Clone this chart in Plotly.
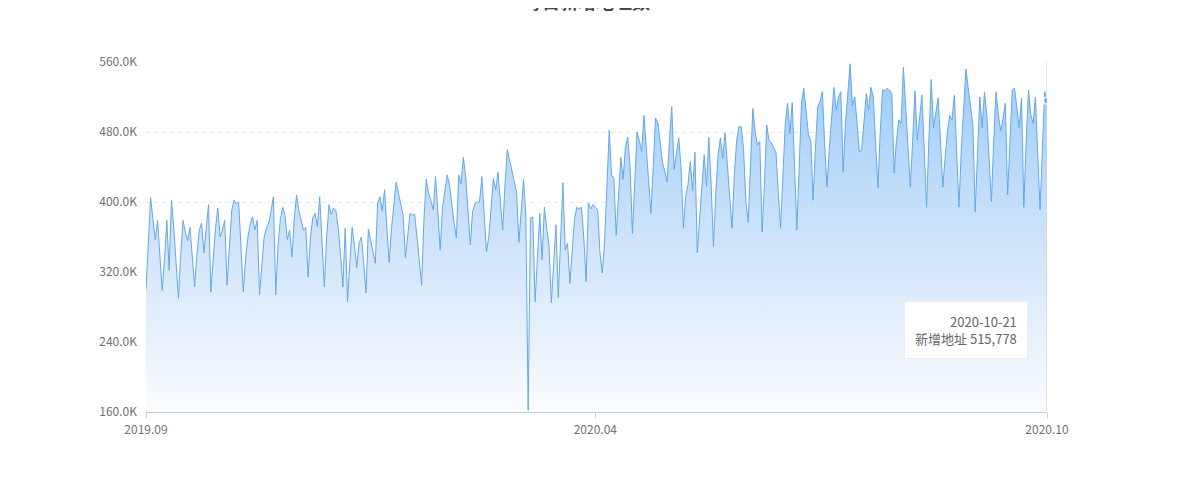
import plotly.graph_objects as go
import pandas as pd

# ---- data (values in thousands) ----
start_date = "2019-09-28"
end_date = "2020-10-21"
values_k = [
    300, 360, 405, 380, 357, 379, 340, 299, 335, 379,
    322, 402, 370, 330, 290, 340, 379, 365, 356, 371,
    340, 303, 340, 368, 376, 342, 370, 397, 297, 340,
    370, 393, 360, 368, 379, 305, 350, 390, 402, 398,
    400, 350, 297, 335, 360, 375, 383, 368, 379, 294,
    330, 360, 370, 376, 390, 406, 294, 350, 380, 394,
    385, 357, 368, 337, 380, 408, 390, 380, 368, 371,
    314, 360, 382, 387, 372, 406, 360, 303, 360, 397,
    386, 393, 390, 370, 340, 303, 370, 286, 330, 371,
    350, 325, 353, 360, 330, 296, 369, 355, 340, 330,
    399, 406, 390, 414, 370, 331, 370, 400, 423, 410,
    398, 385, 336, 365, 387, 385, 386, 360, 330, 305,
    380, 426, 410, 402, 391, 429, 390, 345, 393, 415,
    431, 420, 395, 376, 359, 431, 421, 451, 430, 390,
    351, 389, 398, 400, 400, 429, 380, 343, 360, 395,
    427, 414, 434, 400, 368, 420, 460, 448, 435, 425,
    411, 354, 390, 426, 383, 162, 382, 383, 286, 340,
    387, 334, 394, 370, 350, 285, 330, 374, 291, 350,
    422, 345, 353, 307, 350, 380, 394, 392, 394, 360,
    309, 399, 392, 397, 394, 391, 342, 319, 355, 420,
    482, 430, 428, 362, 410, 451, 426, 463, 474, 440,
    364, 430, 480, 470, 458, 499, 460, 420, 387, 440,
    496, 490, 470, 445, 435, 423, 470, 509, 437, 455,
    473, 440, 370, 406, 420, 446, 413, 457, 342, 380,
    420, 454, 418, 474, 420, 349, 410, 455, 473, 450,
    479, 440, 400, 370, 430, 470, 486, 486, 460, 400,
    377, 440, 507, 480, 465, 469, 366, 420, 488, 470,
    468, 462, 457, 410, 370, 430, 490, 513, 478, 514,
    450, 368, 440, 513, 530, 500, 477, 470, 402, 460,
    509, 515, 526, 467, 417, 460, 500, 531, 505, 520,
    526, 434, 490, 530, 558, 510, 520, 490, 457, 460,
    495, 524, 505, 531, 520, 470, 416, 480, 528, 527,
    530, 528, 524, 433, 470, 494, 490, 554, 510, 460,
    417, 470, 527, 471, 500, 522, 460, 394, 470, 540,
    485, 500, 519, 470, 417, 450, 480, 499, 494, 522,
    460, 394, 460, 510, 552, 530, 505, 488, 389, 460,
    520, 485, 526, 500, 450, 400, 470, 526, 500, 481,
    495, 513, 408, 470, 528, 530, 510, 485, 519, 394,
    470, 528, 500, 490, 520, 460, 391, 460, 526, 515.778,
]
series_name = "新增地址"
x_tick_labels = ["2019.09", "2020.04", "2020.10"]
y_tick_values = [160000, 240000, 320000, 400000, 480000, 560000]
y_tick_labels = ["160.0K", "240.0K", "320.0K", "400.0K", "480.0K", "560.0K"]
title_text = "每日新增地址数"

dates = pd.date_range(start_date, end_date, freq="D")
values = [v * 1000 for v in values_k]
n = len(values)
dates = dates[:n]

line_color = "#64A8E6"
text_color = "#6E7079"
font_family = "Noto Sans CJK SC, Noto Sans, sans-serif"

fig = go.Figure()
fig.add_trace(go.Scatter(
    x=dates, y=values, mode="lines", name=series_name,
    line=dict(color=line_color, width=1),
    fill="tozeroy",
    fillgradient=dict(
        type="vertical",
        colorscale=[[0, "rgba(250,252,255,0.9)"], [0.5, "rgba(200,224,250,0.9)"], [1, "rgba(150,200,248,0.95)"]],
        start=160000, stop=560000,
    ),
    hoverinfo="skip",
))
# highlighted last point
fig.add_trace(go.Scatter(
    x=[dates[-1]], y=[values[-1]], mode="markers",
    marker=dict(color=line_color, size=7, line=dict(color="white", width=1.5)),
    hoverinfo="skip", showlegend=False,
))

mid_idx = 194
fig.update_xaxes(
    range=[dates[0], dates[-1]],
    tickmode="array",
    tickvals=[dates[0], dates[mid_idx], dates[-1]],
    ticktext=x_tick_labels,
    showgrid=False,
    showline=True, linecolor="#CCCCCC", linewidth=1,
    ticks="outside", ticklen=5, tickcolor="#CCCCCC",
    tickfont=dict(size=12, color=text_color, family=font_family),
    ticklabelstandoff=2,
    zeroline=False,
)
fig.update_yaxes(
    range=[160000, 560000],
    tickmode="array", tickvals=y_tick_values, ticktext=y_tick_labels,
    showgrid=True, gridcolor="#E6EAF1", griddash="4px,4px", gridwidth=1,
    showline=False, zeroline=False, ticks="",
    tickfont=dict(size=12, color=text_color, family=font_family),
    ticklabelstandoff=8,
)

# axis pointer line at the hovered (last) date
fig.add_shape(type="line", xref="x", yref="paper", x0=dates[-1], x1=dates[-1], y0=0, y1=1,
              line=dict(color="#CCCCCC", width=1))

# tooltip box
fig.add_annotation(
    xref="paper", yref="paper", x=0.979, y=0.234, xanchor="right", yanchor="middle",
    text=f"{dates[-1].strftime('%Y-%m-%d')}<br>{series_name} {int(round(values[-1])):,}",
    showarrow=False, align="right",
    font=dict(size=13, color="#666666", family=font_family),
    bgcolor="white", bordercolor="#EEEEEE", borderwidth=1, borderpad=10,
)

# title (mostly cut off at the top in the reference)
fig.add_annotation(
    xref="paper", yref="paper", x=0.49, y=1.175, xanchor="center", yanchor="middle",
    text=f"<b>{title_text}</b>", showarrow=False,
    font=dict(size=18, color="#464646", family=font_family),
)

fig.update_layout(
    width=1180, height=491,
    margin=dict(l=138, r=141, t=54, b=87),
    paper_bgcolor="white", plot_bgcolor="white",
    showlegend=False,
    hovermode=False,
)

fig.write_html("out.html")
